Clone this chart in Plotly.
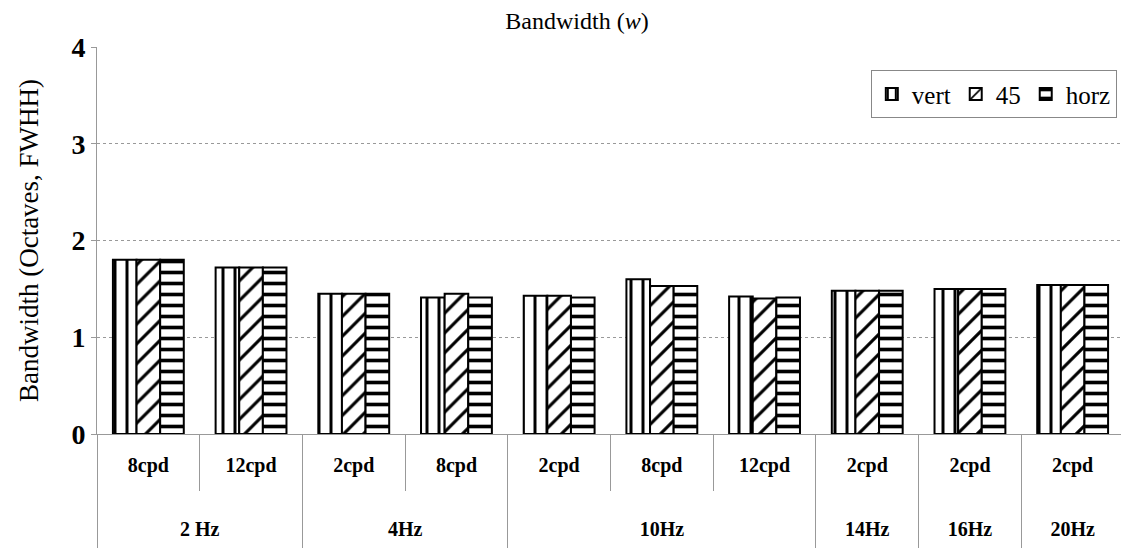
import plotly.graph_objects as go

# category levels
freq = ["2 Hz", "2 Hz", "4Hz", "4Hz", "10Hz", "10Hz", "10Hz", "14Hz", "16Hz", "20Hz"]
sf = ["8cpd", "12cpd", "2cpd", "8cpd", "2cpd", "8cpd", "12cpd", "2cpd", "2cpd", "2cpd"]

# bandwidth values (octaves, FWHH)
vert = [1.80, 1.72, 1.45, 1.41, 1.43, 1.60, 1.42, 1.48, 1.50, 1.54]
diag45 = [1.80, 1.72, 1.45, 1.45, 1.43, 1.53, 1.40, 1.48, 1.50, 1.54]
horz = [1.80, 1.72, 1.45, 1.41, 1.41, 1.53, 1.41, 1.48, 1.50, 1.54]

serif = "Liberation Serif"

# plotly orders inner categories by first appearance across the whole axis,
# so make each inner label unique with zero-width spaces to keep data order
sf_keys = [s + "\u200b" * i for i, s in enumerate(sf)]
# push the outer level further down and let the dividers run to the bottom
freq_keys = ["<br><br>" + f + "<br> " for f in freq]

fig = go.Figure()

series = [
    ("vert", vert, dict(shape="|", size=12, solidity=0.25)),
    ("45", diag45, dict(shape="/", size=14, solidity=0.22)),
    ("horz", horz, dict(shape="-", size=11, solidity=0.33)),
]

for name, vals, pat in series:
    fig.add_trace(go.Bar(
        x=[freq_keys, sf_keys], y=vals, name=name,
        marker=dict(
            color="white",
            line=dict(color="black", width=2),
            pattern=dict(fgcolor="black", bgcolor="white", fillmode="replace", **pat),
        ),
    ))

# invisible helper on an overlay axis: gives short dividers between every category
fig.add_trace(go.Scatter(
    x=sf_keys, y=vert, xaxis="x2", mode="markers", marker=dict(opacity=0),
    showlegend=False, hoverinfo="skip",
))

# page body has an 8px margin, so the figure is 8px smaller and margins shifted
fig.update_layout(
    width=1121, height=540,
    margin=dict(l=89, r=5, t=39, b=114),
    paper_bgcolor="white", plot_bgcolor="white",
    barmode="group", bargap=0.31, bargroupgap=0,
    font=dict(family=serif, color="black", size=18),
    title=dict(text="Bandwidth (<i>w</i>)", x=0.5076, xanchor="center", y=0.993, yanchor="top",
               pad=dict(t=0), font=dict(family=serif, size=24, color="black")),
    legend=dict(orientation="h", x=0.993, xanchor="right", y=0.94, yanchor="top",
                bordercolor="#888", borderwidth=1, bgcolor="white",
                font=dict(family=serif, size=25, color="black"),
                itemwidth=30, tracegroupgap=0),
    showlegend=True,
    xaxis=dict(
        type="multicategory", automargin=False, showline=True, linecolor="#999", linewidth=1,
        showdividers=True, dividercolor="#999", dividerwidth=1,
        ticks="outside", tickson="boundaries", tickcolor="#999", ticklen=27,
        ticklabelstandoff=13,
        tickfont=dict(family=serif, size=20, color="black", weight="bold"),
        showgrid=False,
    ),
    xaxis2=dict(overlaying="x", anchor="y", side="bottom", type="category", automargin=False,
                range=[-0.5, len(sf) - 0.5], tickson="boundaries",
                ticks="outside", ticklen=56, tickcolor="#999",
                showticklabels=False, showgrid=False, zeroline=False, showline=False),
)

fig.update_yaxes(
    range=[0, 4], dtick=1, showgrid=True, gridcolor="#999", griddash="dot", gridwidth=1,
    showline=True, linecolor="#999", linewidth=1, ticks="outside", tickcolor="#999", ticklen=5,
    tickfont=dict(family=serif, size=28, color="black", weight="bold"),
    title=dict(text="Bandwidth (Octaves, FWHH)", font=dict(family=serif, size=27, color="black"), standoff=24),
    zeroline=False,
)

fig.write_html("out.html")
